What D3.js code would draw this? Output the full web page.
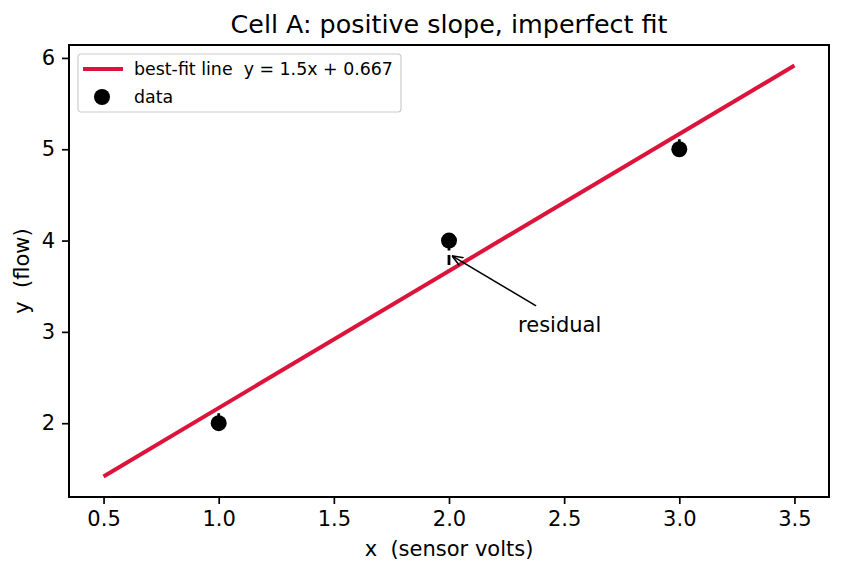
<!DOCTYPE html>
<html>
<head>
<meta charset="utf-8">
<script src="https://cdn.jsdelivr.net/npm/d3@7"></script>
<style>
  body { margin: 0; background: #fff; }
  svg { font-family: "DejaVu Sans", sans-serif; }
  text { white-space: pre; }
</style>
</head>
<body>
<script>
// data
var xData = [1, 2, 3];
var yData = [2, 4, 5];
var slope = 1.5, intercept = 0.667;
var lineX = [0.5, 3.5];
var xTicks = [0.5, 1.0, 1.5, 2.0, 2.5, 3.0, 3.5];
var yTicks = [2, 3, 4, 5, 6];
var annotPoint = [2.0, 3.833];
var annotText = [2.3, 3.0];

var width = 842, height = 573;
var margin = { left: 69, right: 13, top: 45, bottom: 76 };
var pw = width - margin.left - margin.right;
var ph = height - margin.top - margin.bottom;

var svg = d3.select("body").append("svg").attr("width", width).attr("height", height);

var x = d3.scaleLinear().domain([0.35, 3.65]).range([0, pw]);
var y = d3.scaleLinear().domain([1.1917, 6.1417]).range([ph, 0]);

var g = svg.append("g").attr("transform", "translate(" + margin.left + "," + margin.top + ")");

// fit line
var fit = function (v) { return slope * v + intercept; };

// residuals (drawn from point toward line)
g.selectAll("line.resid").data(xData).enter().append("line")
    .attr("class", "resid")
    .attr("x1", function (d) { return x(d); })
    .attr("x2", function (d) { return x(d); })
    .attr("y1", function (d, i) { return y(yData[i]); })
    .attr("y2", function (d) { return y(fit(d)); })
    .attr("stroke", "#000")
    .attr("stroke-width", 2.8)
    .attr("stroke-dasharray", "10,4.5");

g.append("path")
    .attr("d", d3.line().x(function (d) { return x(d); }).y(function (d) { return y(fit(d)); })(lineX))
    .attr("fill", "none")
    .attr("stroke", "#dc143c")
    .attr("stroke-width", 4);

// points
g.selectAll("circle.pt").data(xData).enter().append("circle")
    .attr("class", "pt")
    .attr("cx", function (d) { return x(d); })
    .attr("cy", function (d, i) { return y(yData[i]); })
    .attr("r", 8)
    .attr("fill", "#000");

// annotation
svg.append("defs").append("marker")
    .attr("id", "arrow").attr("viewBox", "0 0 10 10")
    .attr("refX", 10).attr("refY", 5)
    .attr("markerWidth", 11).attr("markerHeight", 11)
    .attr("markerUnits", "userSpaceOnUse")
    .attr("orient", "auto")
    .append("path").attr("d", "M0,1 L10,5 L0,9").attr("fill", "none").attr("stroke", "#000").attr("stroke-width", 1.4);

g.append("line")
    .attr("x1", x(annotText[0]) + 18).attr("y1", y(annotText[1]) - 26)
    .attr("x2", x(annotPoint[0]) + 3).attr("y2", y(annotPoint[1]))
    .attr("stroke", "#000").attr("stroke-width", 1.6)
    .attr("marker-end", "url(#arrow)");

g.append("text")
    .attr("x", x(annotText[0])).attr("y", y(annotText[1]))
    .attr("font-size", 21).text("residual");

// axes
var xAxis = d3.axisBottom(x).tickValues(xTicks).tickFormat(d3.format(".1f")).tickSize(7).tickPadding(7);
var yAxis = d3.axisLeft(y).tickValues(yTicks).tickFormat(d3.format("d")).tickSize(7).tickPadding(7);

var gx = g.append("g").attr("transform", "translate(0," + ph + ")").call(xAxis);
var gy = g.append("g").call(yAxis);
[gx, gy].forEach(function (a) {
    a.select(".domain").remove();
    a.selectAll("text").attr("font-size", 21).attr("font-family", "DejaVu Sans").attr("fill", "#000");
    a.selectAll("line").attr("stroke", "#000").attr("stroke-width", 1.7);
});

g.append("rect").attr("width", pw).attr("height", ph)
    .attr("fill", "none").attr("stroke", "#000").attr("stroke-width", 2);

// labels
svg.append("text").attr("x", margin.left + pw / 2).attr("y", 33)
    .attr("text-anchor", "middle").attr("font-size", 25.4).text("Cell A: positive slope, imperfect fit");
svg.append("text").attr("x", margin.left + pw / 2).attr("y", 556)
    .attr("text-anchor", "middle").attr("font-size", 21).text("x  (sensor volts)");
svg.append("text").attr("transform", "translate(29," + (margin.top + ph / 2) + ") rotate(-90)")
    .attr("text-anchor", "middle").attr("font-size", 21).text("y  (flow)");

// legend
var lg = g.append("g").attr("transform", "translate(9,9)");
lg.append("rect").attr("width", 323).attr("height", 58).attr("rx", 3)
    .attr("fill", "#fff").attr("fill-opacity", 0.8).attr("stroke", "#ccc").attr("stroke-width", 1.2);
lg.append("line").attr("x1", 5).attr("x2", 45).attr("y1", 15).attr("y2", 15)
    .attr("stroke", "#dc143c").attr("stroke-width", 4);
lg.append("circle").attr("cx", 24).attr("cy", 43).attr("r", 8).attr("fill", "#000");
lg.append("text").attr("x", 56).attr("y", 21).attr("font-size", 17.4).text("best-fit line  y = 1.5x + 0.667");
lg.append("text").attr("x", 56).attr("y", 49).attr("font-size", 17.4).text("data");
</script>
</body>
</html>
